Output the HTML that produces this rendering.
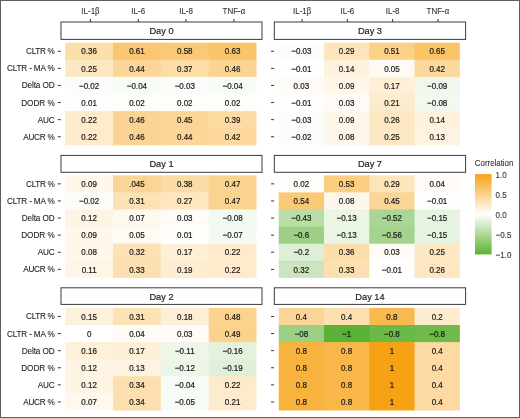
<!DOCTYPE html>
<html><head><meta charset="utf-8"><style>
html,body{margin:0;padding:0;background:#fff;}
body{width:520px;height:418px;overflow:hidden;position:relative;}
svg{position:absolute;left:0;top:0;display:block;}
.v{font-size:8px;fill:#1a1a1a;text-anchor:middle;}
.s{font-size:9.25px;fill:#1a1a1a;text-anchor:middle;}
.y{font-size:8.2px;fill:#222;text-anchor:end;}
.x{font-size:8px;fill:#333;text-anchor:middle;}
.l{font-size:7.6px;fill:#333;}
.gk{font-family:'Liberation Serif',serif;font-size:8.6px;}
text{font-family:'Liberation Sans',Arial,Helvetica,sans-serif;stroke-width:0.12px;paint-order:stroke;}
.v{stroke:#1a1a1a;stroke-width:0.2px;} .s{stroke:#1a1a1a;stroke-width:0.18px;} .x,.y,.l{stroke:#333;stroke-width:0.1px;}
</style></head><body>
<svg width="520" height="418" viewBox="0 0 520 418">
<rect x="0" y="0" width="520" height="418" fill="#fff"/>
<rect x="65.20" y="42.70" width="48.63" height="17.90" fill="#fcdeaa"/>
<rect x="113.03" y="42.70" width="48.63" height="17.90" fill="#fac670"/>
<rect x="160.86" y="42.70" width="48.63" height="17.90" fill="#fac977"/>
<rect x="208.69" y="42.70" width="47.83" height="17.90" fill="#fac46b"/>
<rect x="65.20" y="59.80" width="48.63" height="17.90" fill="#fde8c4"/>
<rect x="113.03" y="59.80" width="48.63" height="17.90" fill="#fbd698"/>
<rect x="160.86" y="59.80" width="48.63" height="17.90" fill="#fcdda8"/>
<rect x="208.69" y="59.80" width="47.83" height="17.90" fill="#fbd493"/>
<rect x="65.20" y="76.90" width="48.63" height="17.90" fill="#fcfdfb"/>
<rect x="113.03" y="76.90" width="48.63" height="17.90" fill="#f8fcf7"/>
<rect x="160.86" y="76.90" width="48.63" height="17.90" fill="#fafdf9"/>
<rect x="208.69" y="76.90" width="47.83" height="17.90" fill="#f8fcf7"/>
<rect x="65.20" y="94.00" width="48.63" height="17.90" fill="#fffefd"/>
<rect x="113.03" y="94.00" width="48.63" height="17.90" fill="#fffdfa"/>
<rect x="160.86" y="94.00" width="48.63" height="17.90" fill="#fffdfa"/>
<rect x="208.69" y="94.00" width="47.83" height="17.90" fill="#fffdfa"/>
<rect x="65.20" y="111.10" width="48.63" height="17.90" fill="#fdebcb"/>
<rect x="113.03" y="111.10" width="48.63" height="17.90" fill="#fbd493"/>
<rect x="160.86" y="111.10" width="48.63" height="17.90" fill="#fbd595"/>
<rect x="208.69" y="111.10" width="47.83" height="17.90" fill="#fcdba3"/>
<rect x="65.20" y="128.20" width="48.63" height="17.10" fill="#fdebcb"/>
<rect x="113.03" y="128.20" width="48.63" height="17.10" fill="#fbd493"/>
<rect x="160.86" y="128.20" width="48.63" height="17.10" fill="#fbd698"/>
<rect x="208.69" y="128.20" width="47.83" height="17.10" fill="#fcd89c"/>
<text transform="translate(89.12,54.45) scale(1,1.12)" class="v" >0.36</text>
<text transform="translate(136.94,54.45) scale(1,1.12)" class="v" >0.61</text>
<text transform="translate(184.77,54.45) scale(1,1.12)" class="v" >0.58</text>
<text transform="translate(232.61,54.45) scale(1,1.12)" class="v" >0.63</text>
<text transform="translate(89.12,71.55) scale(1,1.12)" class="v" >0.25</text>
<text transform="translate(136.94,71.55) scale(1,1.12)" class="v" >0.44</text>
<text transform="translate(184.77,71.55) scale(1,1.12)" class="v" >0.37</text>
<text transform="translate(232.61,71.55) scale(1,1.12)" class="v" >0.46</text>
<text transform="translate(89.12,88.65) scale(1,1.12)" class="v" >−0.02</text>
<text transform="translate(136.94,88.65) scale(1,1.12)" class="v" >−0.04</text>
<text transform="translate(184.77,88.65) scale(1,1.12)" class="v" >−0.03</text>
<text transform="translate(232.61,88.65) scale(1,1.12)" class="v" >−0.04</text>
<text transform="translate(89.12,105.75) scale(1,1.12)" class="v" >0.01</text>
<text transform="translate(136.94,105.75) scale(1,1.12)" class="v" >0.02</text>
<text transform="translate(184.77,105.75) scale(1,1.12)" class="v" >0.02</text>
<text transform="translate(232.61,105.75) scale(1,1.12)" class="v" >0.02</text>
<text transform="translate(89.12,122.85) scale(1,1.12)" class="v" >0.22</text>
<text transform="translate(136.94,122.85) scale(1,1.12)" class="v" >0.46</text>
<text transform="translate(184.77,122.85) scale(1,1.12)" class="v" >0.45</text>
<text transform="translate(232.61,122.85) scale(1,1.12)" class="v" >0.39</text>
<text transform="translate(89.12,139.95) scale(1,1.12)" class="v" >0.22</text>
<text transform="translate(136.94,139.95) scale(1,1.12)" class="v" >0.46</text>
<text transform="translate(184.77,139.95) scale(1,1.12)" class="v" >0.44</text>
<text transform="translate(232.61,139.95) scale(1,1.12)" class="v" >0.42</text>
<rect x="61.00" y="22.00" width="201.00" height="17.40" fill="#fff" stroke="#3a3a3a" stroke-width="1"/>
<text transform="translate(161.50,34.05) scale(1,1.05)" class="s" >Day 0</text>
<line x1="57.80" x2="60.80" y1="51.25" y2="51.25" stroke="#333" stroke-width="1"/>
<text transform="translate(54.70,54.25) scale(1,1.12)" class="y" textLength="28.63" lengthAdjust="spacing">CLTR %</text>
<line x1="57.80" x2="60.80" y1="68.35" y2="68.35" stroke="#333" stroke-width="1"/>
<text transform="translate(54.70,71.35) scale(1,1.12)" class="y" textLength="47.74" lengthAdjust="spacing">CLTR - MA %</text>
<line x1="57.80" x2="60.80" y1="85.45" y2="85.45" stroke="#333" stroke-width="1"/>
<text transform="translate(54.70,88.45) scale(1,1.12)" class="y" textLength="33.07" lengthAdjust="spacing">Delta OD</text>
<line x1="57.80" x2="60.80" y1="102.55" y2="102.55" stroke="#333" stroke-width="1"/>
<text transform="translate(54.70,105.55) scale(1,1.12)" class="y" textLength="33.47" lengthAdjust="spacing">DODR %</text>
<line x1="57.80" x2="60.80" y1="119.65" y2="119.65" stroke="#333" stroke-width="1"/>
<text transform="translate(54.70,122.65) scale(1,1.12)" class="y" textLength="17.00" lengthAdjust="spacing">AUC</text>
<line x1="57.80" x2="60.80" y1="136.75" y2="136.75" stroke="#333" stroke-width="1"/>
<text transform="translate(54.70,139.75) scale(1,1.12)" class="y" textLength="31.47" lengthAdjust="spacing">AUCR %</text>
<rect x="278.70" y="42.70" width="46.08" height="17.90" fill="#fafdf9"/>
<rect x="323.98" y="42.70" width="46.08" height="17.90" fill="#fde4bb"/>
<rect x="369.26" y="42.70" width="46.08" height="17.90" fill="#fbd087"/>
<rect x="414.54" y="42.70" width="45.28" height="17.90" fill="#fac366"/>
<rect x="278.70" y="59.80" width="46.08" height="17.90" fill="#fdfefd"/>
<rect x="323.98" y="59.80" width="46.08" height="17.90" fill="#fef2de"/>
<rect x="369.26" y="59.80" width="46.08" height="17.90" fill="#fffaf3"/>
<rect x="414.54" y="59.80" width="45.28" height="17.90" fill="#fcd89c"/>
<rect x="278.70" y="76.90" width="46.08" height="17.90" fill="#fffcf8"/>
<rect x="323.98" y="76.90" width="46.08" height="17.90" fill="#fef7ea"/>
<rect x="369.26" y="76.90" width="46.08" height="17.90" fill="#feefd7"/>
<rect x="414.54" y="76.90" width="45.28" height="17.90" fill="#f0f8ed"/>
<rect x="278.70" y="94.00" width="46.08" height="17.90" fill="#fdfefd"/>
<rect x="323.98" y="94.00" width="46.08" height="17.90" fill="#fffcf8"/>
<rect x="369.26" y="94.00" width="46.08" height="17.90" fill="#fdebce"/>
<rect x="414.54" y="94.00" width="45.28" height="17.90" fill="#f2f9ef"/>
<rect x="278.70" y="111.10" width="46.08" height="17.90" fill="#fafdf9"/>
<rect x="323.98" y="111.10" width="46.08" height="17.90" fill="#fef7ea"/>
<rect x="369.26" y="111.10" width="46.08" height="17.90" fill="#fde7c2"/>
<rect x="414.54" y="111.10" width="45.28" height="17.90" fill="#fef2de"/>
<rect x="278.70" y="128.20" width="46.08" height="17.10" fill="#fcfdfb"/>
<rect x="323.98" y="128.20" width="46.08" height="17.10" fill="#fef8ec"/>
<rect x="369.26" y="128.20" width="46.08" height="17.10" fill="#fde8c4"/>
<rect x="414.54" y="128.20" width="45.28" height="17.10" fill="#fef3e0"/>
<text transform="translate(301.34,54.45) scale(1,1.12)" class="v" >−0.03</text>
<text transform="translate(346.62,54.45) scale(1,1.12)" class="v" >0.29</text>
<text transform="translate(391.90,54.45) scale(1,1.12)" class="v" >0.51</text>
<text transform="translate(437.18,54.45) scale(1,1.12)" class="v" >0.65</text>
<text transform="translate(301.34,71.55) scale(1,1.12)" class="v" >−0.01</text>
<text transform="translate(346.62,71.55) scale(1,1.12)" class="v" >0.14</text>
<text transform="translate(391.90,71.55) scale(1,1.12)" class="v" >0.05</text>
<text transform="translate(437.18,71.55) scale(1,1.12)" class="v" >0.42</text>
<text transform="translate(301.34,88.65) scale(1,1.12)" class="v" >0.03</text>
<text transform="translate(346.62,88.65) scale(1,1.12)" class="v" >0.09</text>
<text transform="translate(391.90,88.65) scale(1,1.12)" class="v" >0.17</text>
<text transform="translate(437.18,88.65) scale(1,1.12)" class="v" >−0.09</text>
<text transform="translate(301.34,105.75) scale(1,1.12)" class="v" >−0.01</text>
<text transform="translate(346.62,105.75) scale(1,1.12)" class="v" >0.03</text>
<text transform="translate(391.90,105.75) scale(1,1.12)" class="v" >0.21</text>
<text transform="translate(437.18,105.75) scale(1,1.12)" class="v" >−0.08</text>
<text transform="translate(301.34,122.85) scale(1,1.12)" class="v" >−0.03</text>
<text transform="translate(346.62,122.85) scale(1,1.12)" class="v" >0.09</text>
<text transform="translate(391.90,122.85) scale(1,1.12)" class="v" >0.26</text>
<text transform="translate(437.18,122.85) scale(1,1.12)" class="v" >0.14</text>
<text transform="translate(301.34,139.95) scale(1,1.12)" class="v" >−0.02</text>
<text transform="translate(346.62,139.95) scale(1,1.12)" class="v" >0.08</text>
<text transform="translate(391.90,139.95) scale(1,1.12)" class="v" >0.25</text>
<text transform="translate(437.18,139.95) scale(1,1.12)" class="v" >0.13</text>
<rect x="274.30" y="22.00" width="191.30" height="17.40" fill="#fff" stroke="#3a3a3a" stroke-width="1"/>
<text transform="translate(369.95,34.05) scale(1,1.05)" class="s" >Day 3</text>
<line x1="271.10" x2="274.10" y1="51.25" y2="51.25" stroke="#333" stroke-width="1"/>
<line x1="271.10" x2="274.10" y1="68.35" y2="68.35" stroke="#333" stroke-width="1"/>
<line x1="271.10" x2="274.10" y1="85.45" y2="85.45" stroke="#333" stroke-width="1"/>
<line x1="271.10" x2="274.10" y1="102.55" y2="102.55" stroke="#333" stroke-width="1"/>
<line x1="271.10" x2="274.10" y1="119.65" y2="119.65" stroke="#333" stroke-width="1"/>
<line x1="271.10" x2="274.10" y1="136.75" y2="136.75" stroke="#333" stroke-width="1"/>
<rect x="65.20" y="175.30" width="48.63" height="17.90" fill="#fef7ea"/>
<rect x="113.03" y="175.30" width="48.63" height="17.90" fill="#fbd595"/>
<rect x="160.86" y="175.30" width="48.63" height="17.90" fill="#fcdca6"/>
<rect x="208.69" y="175.30" width="47.83" height="17.90" fill="#fbd391"/>
<rect x="65.20" y="192.40" width="48.63" height="17.90" fill="#fcfdfb"/>
<rect x="113.03" y="192.40" width="48.63" height="17.90" fill="#fde2b6"/>
<rect x="160.86" y="192.40" width="48.63" height="17.90" fill="#fde6c0"/>
<rect x="208.69" y="192.40" width="47.83" height="17.90" fill="#fbd391"/>
<rect x="65.20" y="209.50" width="48.63" height="17.90" fill="#fef4e3"/>
<rect x="113.03" y="209.50" width="48.63" height="17.90" fill="#fef8ef"/>
<rect x="160.86" y="209.50" width="48.63" height="17.90" fill="#fffcf8"/>
<rect x="208.69" y="209.50" width="47.83" height="17.90" fill="#f2f9ef"/>
<rect x="65.20" y="226.60" width="48.63" height="17.90" fill="#fef7ea"/>
<rect x="113.03" y="226.60" width="48.63" height="17.90" fill="#fffaf3"/>
<rect x="160.86" y="226.60" width="48.63" height="17.90" fill="#fffefd"/>
<rect x="208.69" y="226.60" width="47.83" height="17.90" fill="#f4faf1"/>
<rect x="65.20" y="243.70" width="48.63" height="17.90" fill="#fef8ec"/>
<rect x="113.03" y="243.70" width="48.63" height="17.90" fill="#fce1b4"/>
<rect x="160.86" y="243.70" width="48.63" height="17.90" fill="#feefd7"/>
<rect x="208.69" y="243.70" width="47.83" height="17.90" fill="#fdebcb"/>
<rect x="65.20" y="260.80" width="48.63" height="17.10" fill="#fef5e5"/>
<rect x="113.03" y="260.80" width="48.63" height="17.10" fill="#fce0b1"/>
<rect x="160.86" y="260.80" width="48.63" height="17.10" fill="#fdedd2"/>
<rect x="208.69" y="260.80" width="47.83" height="17.10" fill="#fdebcb"/>
<text transform="translate(89.12,187.05) scale(1,1.12)" class="v" >0.09</text>
<text transform="translate(136.94,187.05) scale(1,1.12)" class="v" >.045</text>
<text transform="translate(184.77,187.05) scale(1,1.12)" class="v" >0.38</text>
<text transform="translate(232.61,187.05) scale(1,1.12)" class="v" >0.47</text>
<text transform="translate(89.12,204.15) scale(1,1.12)" class="v" >−0.02</text>
<text transform="translate(136.94,204.15) scale(1,1.12)" class="v" >0.31</text>
<text transform="translate(184.77,204.15) scale(1,1.12)" class="v" >0.27</text>
<text transform="translate(232.61,204.15) scale(1,1.12)" class="v" >0.47</text>
<text transform="translate(89.12,221.25) scale(1,1.12)" class="v" >0.12</text>
<text transform="translate(136.94,221.25) scale(1,1.12)" class="v" >0.07</text>
<text transform="translate(184.77,221.25) scale(1,1.12)" class="v" >0.03</text>
<text transform="translate(232.61,221.25) scale(1,1.12)" class="v" >−0.08</text>
<text transform="translate(89.12,238.35) scale(1,1.12)" class="v" >0.09</text>
<text transform="translate(136.94,238.35) scale(1,1.12)" class="v" >0.05</text>
<text transform="translate(184.77,238.35) scale(1,1.12)" class="v" >0.01</text>
<text transform="translate(232.61,238.35) scale(1,1.12)" class="v" >−0.07</text>
<text transform="translate(89.12,255.45) scale(1,1.12)" class="v" >0.08</text>
<text transform="translate(136.94,255.45) scale(1,1.12)" class="v" >0.32</text>
<text transform="translate(184.77,255.45) scale(1,1.12)" class="v" >0.17</text>
<text transform="translate(232.61,255.45) scale(1,1.12)" class="v" >0.22</text>
<text transform="translate(89.12,272.55) scale(1,1.12)" class="v" >0.11</text>
<text transform="translate(136.94,272.55) scale(1,1.12)" class="v" >0.33</text>
<text transform="translate(184.77,272.55) scale(1,1.12)" class="v" >0.19</text>
<text transform="translate(232.61,272.55) scale(1,1.12)" class="v" >0.22</text>
<rect x="61.00" y="155.40" width="201.00" height="16.90" fill="#fff" stroke="#3a3a3a" stroke-width="1"/>
<text transform="translate(161.50,166.60) scale(1,1.05)" class="s" >Day 1</text>
<line x1="57.80" x2="60.80" y1="183.85" y2="183.85" stroke="#333" stroke-width="1"/>
<text transform="translate(54.70,186.85) scale(1,1.12)" class="y" textLength="28.63" lengthAdjust="spacing">CLTR %</text>
<line x1="57.80" x2="60.80" y1="200.95" y2="200.95" stroke="#333" stroke-width="1"/>
<text transform="translate(54.70,203.95) scale(1,1.12)" class="y" textLength="47.74" lengthAdjust="spacing">CLTR - MA %</text>
<line x1="57.80" x2="60.80" y1="218.05" y2="218.05" stroke="#333" stroke-width="1"/>
<text transform="translate(54.70,221.05) scale(1,1.12)" class="y" textLength="33.07" lengthAdjust="spacing">Delta OD</text>
<line x1="57.80" x2="60.80" y1="235.15" y2="235.15" stroke="#333" stroke-width="1"/>
<text transform="translate(54.70,238.15) scale(1,1.12)" class="y" textLength="33.47" lengthAdjust="spacing">DODR %</text>
<line x1="57.80" x2="60.80" y1="252.25" y2="252.25" stroke="#333" stroke-width="1"/>
<text transform="translate(54.70,255.25) scale(1,1.12)" class="y" textLength="17.00" lengthAdjust="spacing">AUC</text>
<line x1="57.80" x2="60.80" y1="269.35" y2="269.35" stroke="#333" stroke-width="1"/>
<text transform="translate(54.70,272.35) scale(1,1.12)" class="y" textLength="31.47" lengthAdjust="spacing">AUCR %</text>
<rect x="278.70" y="175.30" width="46.08" height="17.90" fill="#fffdfa"/>
<rect x="323.98" y="175.30" width="46.08" height="17.90" fill="#fbce82"/>
<rect x="369.26" y="175.30" width="46.08" height="17.90" fill="#fde4bb"/>
<rect x="414.54" y="175.30" width="45.28" height="17.90" fill="#fffbf6"/>
<rect x="278.70" y="192.40" width="46.08" height="17.90" fill="#fac977"/>
<rect x="323.98" y="192.40" width="46.08" height="17.90" fill="#fef8ec"/>
<rect x="369.26" y="192.40" width="46.08" height="17.90" fill="#fbd595"/>
<rect x="414.54" y="192.40" width="45.28" height="17.90" fill="#fdfefd"/>
<rect x="278.70" y="209.50" width="46.08" height="17.90" fill="#b8dda7"/>
<rect x="323.98" y="209.50" width="46.08" height="17.90" fill="#eaf5e4"/>
<rect x="369.26" y="209.50" width="46.08" height="17.90" fill="#aad695"/>
<rect x="414.54" y="209.50" width="45.28" height="17.90" fill="#e6f3e0"/>
<rect x="278.70" y="226.60" width="46.08" height="17.90" fill="#9dd085"/>
<rect x="323.98" y="226.60" width="46.08" height="17.90" fill="#eaf5e4"/>
<rect x="369.26" y="226.60" width="46.08" height="17.90" fill="#a3d38d"/>
<rect x="414.54" y="226.60" width="45.28" height="17.90" fill="#e6f3e0"/>
<rect x="278.70" y="243.70" width="46.08" height="17.90" fill="#deefd6"/>
<rect x="323.98" y="243.70" width="46.08" height="17.90" fill="#fcdeaa"/>
<rect x="369.26" y="243.70" width="46.08" height="17.90" fill="#fffcf8"/>
<rect x="414.54" y="243.70" width="45.28" height="17.90" fill="#fde8c4"/>
<rect x="278.70" y="260.80" width="46.08" height="17.10" fill="#cbe6be"/>
<rect x="323.98" y="260.80" width="46.08" height="17.10" fill="#fce0b1"/>
<rect x="369.26" y="260.80" width="46.08" height="17.10" fill="#fdfefd"/>
<rect x="414.54" y="260.80" width="45.28" height="17.10" fill="#fde7c2"/>
<text transform="translate(301.34,187.05) scale(1,1.12)" class="v" >0.02</text>
<text transform="translate(346.62,187.05) scale(1,1.12)" class="v" >0.53</text>
<text transform="translate(391.90,187.05) scale(1,1.12)" class="v" >0.29</text>
<text transform="translate(437.18,187.05) scale(1,1.12)" class="v" >0.04</text>
<text transform="translate(301.34,204.15) scale(1,1.12)" class="v" >0.54</text>
<text transform="translate(346.62,204.15) scale(1,1.12)" class="v" >0.08</text>
<text transform="translate(391.90,204.15) scale(1,1.12)" class="v" >0.45</text>
<text transform="translate(437.18,204.15) scale(1,1.12)" class="v" >−0.01</text>
<text transform="translate(301.34,221.25) scale(1,1.12)" class="v" >−0.43</text>
<text transform="translate(346.62,221.25) scale(1,1.12)" class="v" >−0.13</text>
<text transform="translate(391.90,221.25) scale(1,1.12)" class="v" >−0.52</text>
<text transform="translate(437.18,221.25) scale(1,1.12)" class="v" >−0.15</text>
<text transform="translate(301.34,238.35) scale(1,1.12)" class="v" >−0.6</text>
<text transform="translate(346.62,238.35) scale(1,1.12)" class="v" >−0.13</text>
<text transform="translate(391.90,238.35) scale(1,1.12)" class="v" >−0.56</text>
<text transform="translate(437.18,238.35) scale(1,1.12)" class="v" >−0.15</text>
<text transform="translate(301.34,255.45) scale(1,1.12)" class="v" >−0.2</text>
<text transform="translate(346.62,255.45) scale(1,1.12)" class="v" >0.36</text>
<text transform="translate(391.90,255.45) scale(1,1.12)" class="v" >0.03</text>
<text transform="translate(437.18,255.45) scale(1,1.12)" class="v" >0.25</text>
<text transform="translate(301.34,272.55) scale(1,1.12)" class="v" >0.32</text>
<text transform="translate(346.62,272.55) scale(1,1.12)" class="v" >0.33</text>
<text transform="translate(391.90,272.55) scale(1,1.12)" class="v" >−0.01</text>
<text transform="translate(437.18,272.55) scale(1,1.12)" class="v" >0.26</text>
<rect x="274.30" y="155.40" width="191.30" height="16.90" fill="#fff" stroke="#3a3a3a" stroke-width="1"/>
<text transform="translate(369.95,166.60) scale(1,1.05)" class="s" >Day 7</text>
<line x1="271.10" x2="274.10" y1="183.85" y2="183.85" stroke="#333" stroke-width="1"/>
<line x1="271.10" x2="274.10" y1="200.95" y2="200.95" stroke="#333" stroke-width="1"/>
<line x1="271.10" x2="274.10" y1="218.05" y2="218.05" stroke="#333" stroke-width="1"/>
<line x1="271.10" x2="274.10" y1="235.15" y2="235.15" stroke="#333" stroke-width="1"/>
<line x1="271.10" x2="274.10" y1="252.25" y2="252.25" stroke="#333" stroke-width="1"/>
<line x1="271.10" x2="274.10" y1="269.35" y2="269.35" stroke="#333" stroke-width="1"/>
<rect x="65.20" y="307.90" width="48.63" height="17.90" fill="#fef1dc"/>
<rect x="113.03" y="307.90" width="48.63" height="17.90" fill="#fde2b6"/>
<rect x="160.86" y="307.90" width="48.63" height="17.90" fill="#feeed5"/>
<rect x="208.69" y="307.90" width="47.83" height="17.90" fill="#fbd28e"/>
<rect x="65.20" y="325.00" width="48.63" height="17.90" fill="#ffffff"/>
<rect x="113.03" y="325.00" width="48.63" height="17.90" fill="#fffbf6"/>
<rect x="160.86" y="325.00" width="48.63" height="17.90" fill="#fffcf8"/>
<rect x="208.69" y="325.00" width="47.83" height="17.90" fill="#fbd18c"/>
<rect x="65.20" y="342.10" width="48.63" height="17.90" fill="#fef0d9"/>
<rect x="113.03" y="342.10" width="48.63" height="17.90" fill="#feefd7"/>
<rect x="160.86" y="342.10" width="48.63" height="17.90" fill="#edf6e9"/>
<rect x="208.69" y="342.10" width="47.83" height="17.90" fill="#e5f3de"/>
<rect x="65.20" y="359.20" width="48.63" height="17.90" fill="#fef4e3"/>
<rect x="113.03" y="359.20" width="48.63" height="17.90" fill="#fef3e0"/>
<rect x="160.86" y="359.20" width="48.63" height="17.90" fill="#ebf6e7"/>
<rect x="208.69" y="359.20" width="47.83" height="17.90" fill="#e0f0d8"/>
<rect x="65.20" y="376.30" width="48.63" height="17.90" fill="#fef4e3"/>
<rect x="113.03" y="376.30" width="48.63" height="17.90" fill="#fcdfaf"/>
<rect x="160.86" y="376.30" width="48.63" height="17.90" fill="#f8fcf7"/>
<rect x="208.69" y="376.30" width="47.83" height="17.90" fill="#fdebcb"/>
<rect x="65.20" y="393.40" width="48.63" height="17.10" fill="#fef8ef"/>
<rect x="113.03" y="393.40" width="48.63" height="17.10" fill="#fcdfaf"/>
<rect x="160.86" y="393.40" width="48.63" height="17.10" fill="#f7fbf5"/>
<rect x="208.69" y="393.40" width="47.83" height="17.10" fill="#fdebce"/>
<text transform="translate(89.12,319.65) scale(1,1.12)" class="v" >0.15</text>
<text transform="translate(136.94,319.65) scale(1,1.12)" class="v" >0.31</text>
<text transform="translate(184.77,319.65) scale(1,1.12)" class="v" >0.18</text>
<text transform="translate(232.61,319.65) scale(1,1.12)" class="v" >0.48</text>
<text transform="translate(89.12,336.75) scale(1,1.12)" class="v" >0</text>
<text transform="translate(136.94,336.75) scale(1,1.12)" class="v" >0.04</text>
<text transform="translate(184.77,336.75) scale(1,1.12)" class="v" >0.03</text>
<text transform="translate(232.61,336.75) scale(1,1.12)" class="v" >0.49</text>
<text transform="translate(89.12,353.85) scale(1,1.12)" class="v" >0.16</text>
<text transform="translate(136.94,353.85) scale(1,1.12)" class="v" >0.17</text>
<text transform="translate(184.77,353.85) scale(1,1.12)" class="v" >−0.11</text>
<text transform="translate(232.61,353.85) scale(1,1.12)" class="v" >−0.16</text>
<text transform="translate(89.12,370.95) scale(1,1.12)" class="v" >0.12</text>
<text transform="translate(136.94,370.95) scale(1,1.12)" class="v" >0.13</text>
<text transform="translate(184.77,370.95) scale(1,1.12)" class="v" >−0.12</text>
<text transform="translate(232.61,370.95) scale(1,1.12)" class="v" >−0.19</text>
<text transform="translate(89.12,388.05) scale(1,1.12)" class="v" >0.12</text>
<text transform="translate(136.94,388.05) scale(1,1.12)" class="v" >0.34</text>
<text transform="translate(184.77,388.05) scale(1,1.12)" class="v" >−0.04</text>
<text transform="translate(232.61,388.05) scale(1,1.12)" class="v" >0.22</text>
<text transform="translate(89.12,405.15) scale(1,1.12)" class="v" >0.07</text>
<text transform="translate(136.94,405.15) scale(1,1.12)" class="v" >0.34</text>
<text transform="translate(184.77,405.15) scale(1,1.12)" class="v" >−0.05</text>
<text transform="translate(232.61,405.15) scale(1,1.12)" class="v" >0.21</text>
<rect x="61.00" y="287.80" width="201.00" height="16.60" fill="#fff" stroke="#3a3a3a" stroke-width="1"/>
<text transform="translate(161.50,299.55) scale(1,1.05)" class="s" >Day 2</text>
<line x1="57.80" x2="60.80" y1="316.45" y2="316.45" stroke="#333" stroke-width="1"/>
<text transform="translate(54.70,319.45) scale(1,1.12)" class="y" textLength="28.63" lengthAdjust="spacing">CLTR %</text>
<line x1="57.80" x2="60.80" y1="333.55" y2="333.55" stroke="#333" stroke-width="1"/>
<text transform="translate(54.70,336.55) scale(1,1.12)" class="y" textLength="47.74" lengthAdjust="spacing">CLTR - MA %</text>
<line x1="57.80" x2="60.80" y1="350.65" y2="350.65" stroke="#333" stroke-width="1"/>
<text transform="translate(54.70,353.65) scale(1,1.12)" class="y" textLength="33.07" lengthAdjust="spacing">Delta OD</text>
<line x1="57.80" x2="60.80" y1="367.75" y2="367.75" stroke="#333" stroke-width="1"/>
<text transform="translate(54.70,370.75) scale(1,1.12)" class="y" textLength="33.47" lengthAdjust="spacing">DODR %</text>
<line x1="57.80" x2="60.80" y1="384.85" y2="384.85" stroke="#333" stroke-width="1"/>
<text transform="translate(54.70,387.85) scale(1,1.12)" class="y" textLength="17.00" lengthAdjust="spacing">AUC</text>
<line x1="57.80" x2="60.80" y1="401.95" y2="401.95" stroke="#333" stroke-width="1"/>
<text transform="translate(54.70,404.95) scale(1,1.12)" class="y" textLength="31.47" lengthAdjust="spacing">AUCR %</text>
<rect x="278.70" y="307.90" width="46.08" height="17.90" fill="#fbd595"/>
<rect x="323.98" y="307.90" width="46.08" height="17.90" fill="#fce0b1"/>
<rect x="369.26" y="307.90" width="46.08" height="17.90" fill="#f9b94f"/>
<rect x="414.54" y="307.90" width="45.28" height="17.90" fill="#fdecd0"/>
<rect x="278.70" y="325.00" width="46.08" height="17.90" fill="#9dd085"/>
<rect x="323.98" y="325.00" width="46.08" height="17.90" fill="#5bb133"/>
<rect x="369.26" y="325.00" width="46.08" height="17.90" fill="#6bb947"/>
<rect x="414.54" y="325.00" width="45.28" height="17.90" fill="#6fba4b"/>
<rect x="278.70" y="342.10" width="46.08" height="17.90" fill="#f8b33e"/>
<rect x="323.98" y="342.10" width="46.08" height="17.90" fill="#f9b74a"/>
<rect x="369.26" y="342.10" width="46.08" height="17.90" fill="#f7a214"/>
<rect x="414.54" y="342.10" width="45.28" height="17.90" fill="#fcdaa1"/>
<rect x="278.70" y="359.20" width="46.08" height="17.90" fill="#f8b33e"/>
<rect x="323.98" y="359.20" width="46.08" height="17.90" fill="#f9b74a"/>
<rect x="369.26" y="359.20" width="46.08" height="17.90" fill="#f7a214"/>
<rect x="414.54" y="359.20" width="45.28" height="17.90" fill="#fcdaa1"/>
<rect x="278.70" y="376.30" width="46.08" height="17.90" fill="#f8b33e"/>
<rect x="323.98" y="376.30" width="46.08" height="17.90" fill="#f9b74a"/>
<rect x="369.26" y="376.30" width="46.08" height="17.90" fill="#f7a214"/>
<rect x="414.54" y="376.30" width="45.28" height="17.90" fill="#fcdaa1"/>
<rect x="278.70" y="393.40" width="46.08" height="17.10" fill="#f8b33e"/>
<rect x="323.98" y="393.40" width="46.08" height="17.10" fill="#f9b74a"/>
<rect x="369.26" y="393.40" width="46.08" height="17.10" fill="#f7a214"/>
<rect x="414.54" y="393.40" width="45.28" height="17.10" fill="#fcdaa1"/>
<text transform="translate(301.34,319.65) scale(1,1.12)" class="v" >0.4</text>
<text transform="translate(346.62,319.65) scale(1,1.12)" class="v" >0.4</text>
<text transform="translate(391.90,319.65) scale(1,1.12)" class="v" >0.8</text>
<text transform="translate(437.18,319.65) scale(1,1.12)" class="v" >0.2</text>
<text transform="translate(301.34,336.75) scale(1,1.12)" class="v" >−08</text>
<text transform="translate(346.62,336.75) scale(1,1.12)" class="v" >−1</text>
<text transform="translate(391.90,336.75) scale(1,1.12)" class="v" >−0.8</text>
<text transform="translate(437.18,336.75) scale(1,1.12)" class="v" >−0.8</text>
<text transform="translate(301.34,353.85) scale(1,1.12)" class="v" >0.8</text>
<text transform="translate(346.62,353.85) scale(1,1.12)" class="v" >0.8</text>
<text transform="translate(391.90,353.85) scale(1,1.12)" class="v" >1</text>
<text transform="translate(437.18,353.85) scale(1,1.12)" class="v" >0.4</text>
<text transform="translate(301.34,370.95) scale(1,1.12)" class="v" >0.8</text>
<text transform="translate(346.62,370.95) scale(1,1.12)" class="v" >0.8</text>
<text transform="translate(391.90,370.95) scale(1,1.12)" class="v" >1</text>
<text transform="translate(437.18,370.95) scale(1,1.12)" class="v" >0.4</text>
<text transform="translate(301.34,388.05) scale(1,1.12)" class="v" >0.8</text>
<text transform="translate(346.62,388.05) scale(1,1.12)" class="v" >0.8</text>
<text transform="translate(391.90,388.05) scale(1,1.12)" class="v" >1</text>
<text transform="translate(437.18,388.05) scale(1,1.12)" class="v" >0.4</text>
<text transform="translate(301.34,405.15) scale(1,1.12)" class="v" >0.8</text>
<text transform="translate(346.62,405.15) scale(1,1.12)" class="v" >0.8</text>
<text transform="translate(391.90,405.15) scale(1,1.12)" class="v" >1</text>
<text transform="translate(437.18,405.15) scale(1,1.12)" class="v" >0.4</text>
<rect x="274.30" y="287.80" width="191.30" height="16.60" fill="#fff" stroke="#3a3a3a" stroke-width="1"/>
<text transform="translate(369.95,299.55) scale(1,1.05)" class="s" >Day 14</text>
<line x1="271.10" x2="274.10" y1="316.45" y2="316.45" stroke="#333" stroke-width="1"/>
<line x1="271.10" x2="274.10" y1="333.55" y2="333.55" stroke="#333" stroke-width="1"/>
<line x1="271.10" x2="274.10" y1="350.65" y2="350.65" stroke="#333" stroke-width="1"/>
<line x1="271.10" x2="274.10" y1="367.75" y2="367.75" stroke="#333" stroke-width="1"/>
<line x1="271.10" x2="274.10" y1="384.85" y2="384.85" stroke="#333" stroke-width="1"/>
<line x1="271.10" x2="274.10" y1="401.95" y2="401.95" stroke="#333" stroke-width="1"/>
<line x1="90.42" x2="90.42" y1="19.00" y2="22.00" stroke="#333" stroke-width="1"/>
<text transform="translate(90.42,13.90) scale(1,1.12)" class="x" >IL-1<tspan class="gk">β</tspan></text>
<line x1="138.25" x2="138.25" y1="19.00" y2="22.00" stroke="#333" stroke-width="1"/>
<text transform="translate(138.25,13.90) scale(1,1.12)" class="x" >IL-6</text>
<line x1="186.07" x2="186.07" y1="19.00" y2="22.00" stroke="#333" stroke-width="1"/>
<text transform="translate(186.07,13.90) scale(1,1.12)" class="x" >IL-8</text>
<line x1="233.91" x2="233.91" y1="19.00" y2="22.00" stroke="#333" stroke-width="1"/>
<text transform="translate(233.91,13.90) scale(1,1.12)" class="x" >TNF-<tspan class="gk">α</tspan></text>
<line x1="302.09" x2="302.09" y1="19.00" y2="22.00" stroke="#333" stroke-width="1"/>
<text transform="translate(302.09,13.90) scale(1,1.12)" class="x" >IL-1<tspan class="gk">β</tspan></text>
<line x1="347.37" x2="347.37" y1="19.00" y2="22.00" stroke="#333" stroke-width="1"/>
<text transform="translate(347.37,13.90) scale(1,1.12)" class="x" >IL-6</text>
<line x1="392.65" x2="392.65" y1="19.00" y2="22.00" stroke="#333" stroke-width="1"/>
<text transform="translate(392.65,13.90) scale(1,1.12)" class="x" >IL-8</text>
<line x1="437.93" x2="437.93" y1="19.00" y2="22.00" stroke="#333" stroke-width="1"/>
<text transform="translate(437.93,13.90) scale(1,1.12)" class="x" >TNF-<tspan class="gk">α</tspan></text>
<defs><linearGradient id="g" x1="0" y1="0" x2="0" y2="1">
<stop offset="0.0000" stop-color="#f7a214"/>
<stop offset="0.0250" stop-color="#f7a720"/>
<stop offset="0.0500" stop-color="#f8ab2c"/>
<stop offset="0.0750" stop-color="#f8b037"/>
<stop offset="0.1000" stop-color="#f9b543"/>
<stop offset="0.1250" stop-color="#f9b94f"/>
<stop offset="0.1500" stop-color="#f9be5a"/>
<stop offset="0.1750" stop-color="#fac366"/>
<stop offset="0.2000" stop-color="#fac772"/>
<stop offset="0.2250" stop-color="#fbcc7e"/>
<stop offset="0.2500" stop-color="#fbd08a"/>
<stop offset="0.2750" stop-color="#fbd595"/>
<stop offset="0.3000" stop-color="#fcdaa1"/>
<stop offset="0.3250" stop-color="#fcdead"/>
<stop offset="0.3500" stop-color="#fde3b8"/>
<stop offset="0.3750" stop-color="#fde8c4"/>
<stop offset="0.4000" stop-color="#fdecd0"/>
<stop offset="0.4250" stop-color="#fef1dc"/>
<stop offset="0.4500" stop-color="#fef6e8"/>
<stop offset="0.4750" stop-color="#fffaf3"/>
<stop offset="0.5000" stop-color="#ffffff"/>
<stop offset="0.5250" stop-color="#f7fbf5"/>
<stop offset="0.5500" stop-color="#eff7eb"/>
<stop offset="0.5750" stop-color="#e6f3e0"/>
<stop offset="0.6000" stop-color="#deefd6"/>
<stop offset="0.6250" stop-color="#d6eccc"/>
<stop offset="0.6500" stop-color="#cee8c2"/>
<stop offset="0.6750" stop-color="#c6e4b8"/>
<stop offset="0.7000" stop-color="#bde0ad"/>
<stop offset="0.7250" stop-color="#b5dca3"/>
<stop offset="0.7500" stop-color="#add899"/>
<stop offset="0.7750" stop-color="#a5d48f"/>
<stop offset="0.8000" stop-color="#9dd085"/>
<stop offset="0.8250" stop-color="#94cc7a"/>
<stop offset="0.8500" stop-color="#8cc870"/>
<stop offset="0.8750" stop-color="#84c466"/>
<stop offset="0.9000" stop-color="#7cc15c"/>
<stop offset="0.9250" stop-color="#74bd52"/>
<stop offset="0.9500" stop-color="#6bb947"/>
<stop offset="0.9750" stop-color="#63b53d"/>
<stop offset="1.0000" stop-color="#5bb133"/>
</linearGradient></defs>
<rect x="475.0" y="174.1" width="16.6" height="80.3" fill="url(#g)"/>
<text transform="translate(474.80,165.60) scale(1,1.12)" class="l" text-anchor="start" style="font-size:7.9px">Correlation</text>
<text transform="translate(495.60,177.50) scale(1,1.12)" class="l" text-anchor="start" style="font-size:8px">1.0</text>
<text transform="translate(495.60,197.57) scale(1,1.12)" class="l" text-anchor="start" style="font-size:8px">0.5</text>
<text transform="translate(495.60,217.65) scale(1,1.12)" class="l" text-anchor="start" style="font-size:8px">0.0</text>
<text transform="translate(495.60,237.72) scale(1,1.12)" class="l" text-anchor="start" style="font-size:8px">−0.5</text>
<text transform="translate(495.60,257.80) scale(1,1.12)" class="l" text-anchor="start" style="font-size:8px">−1.0</text>
<rect x="0.5" y="0.5" width="519" height="417" fill="none" stroke="#5e5e5e" stroke-width="1"/>
</svg>
</body></html>
